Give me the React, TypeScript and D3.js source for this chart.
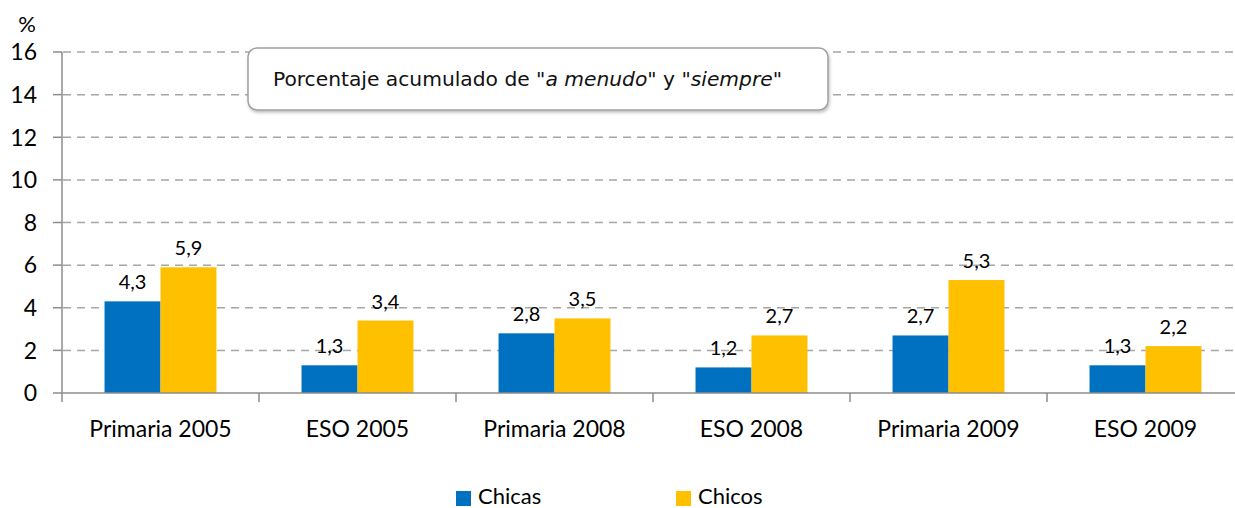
import React from "react";
import * as d3 from "d3";

const categories = ["Primaria 2005", "ESO 2005", "Primaria 2008", "ESO 2008", "Primaria 2009", "ESO 2009"];
const seriesNames = ["Chicas", "Chicos"];
const chicas = [4.3, 1.3, 2.8, 1.2, 2.7, 1.3];
const chicos = [5.9, 3.4, 3.5, 2.7, 5.3, 2.2];
const yTicks = [0, 2, 4, 6, 8, 10, 12, 14, 16];
const colors = ["#0070C0", "#FFC000"];

const W = 1235;
const H = 508;
const FONT = "Lato, 'Noto Sans', sans-serif";

export default function App() {
  const left = 62;
  const catW = 197;
  const x = d3.scaleBand<string>().domain(categories).range([left, left + catW * categories.length]).padding(0);
  const inner = d3.scaleBand<string>().domain(seriesNames).range([0, x.bandwidth()]).paddingInner(0).paddingOuter(0.76);
  const y = d3.scaleLinear().domain([0, 16]).range([393, 52]);
  const series = [chicas, chicos];
  const fmt = (v: number) => v.toFixed(1).replace(".", ",");

  return (
    <div style={{ position: "absolute", left: 0, top: 0 }}>
      <svg width={W} height={H} style={{ display: "block", background: "#fff" }}>
        <defs>
          <filter id="sh" x="-5%" y="-20%" width="110%" height="150%">
            <feDropShadow dx="1" dy="2" stdDeviation="1.5" floodColor="#000" floodOpacity="0.25" />
          </filter>
        </defs>
        {yTicks.filter((t) => t > 0).map((t) => (
          <line key={t} x1={left + 1} x2={W} y1={y(t)} y2={y(t)} stroke="#a6a6a6" strokeWidth={1.5} strokeDasharray="8 6" />
        ))}
        {series.map((vals, si) =>
          categories.map((c, ci) => (
            <rect
              key={si + "-" + ci}
              x={(x(c) as number) + (inner(seriesNames[si]) as number)}
              y={y(vals[ci])}
              width={inner.bandwidth()}
              height={y(0) - y(vals[ci])}
              fill={colors[si]}
            />
          ))
        )}
        {series.map((vals, si) =>
          categories.map((c, ci) => (
            <text
              key={"l" + si + "-" + ci}
              x={(x(c) as number) + (inner(seriesNames[si]) as number) + inner.bandwidth() / 2}
              y={y(vals[ci]) - 12}
              textAnchor="middle"
              fontFamily={FONT}
              fontSize={20}
              fill="#000"
            >
              {fmt(vals[ci])}
            </text>
          ))
        )}
        <line x1={left} x2={W} y1={y(0)} y2={y(0)} stroke="#8c8c8c" strokeWidth={1.5} />
        <line x1={left} x2={left} y1={y(16)} y2={y(0) + 9} stroke="#8c8c8c" strokeWidth={1.5} />
        {yTicks.map((t) => (
          <g key={"yt" + t}>
            <line x1={left - 9} x2={left} y1={y(t)} y2={y(t)} stroke="#8c8c8c" strokeWidth={1.5} />
            <text x={37} y={y(t)} dy="0.36em" textAnchor="end" fontFamily={FONT} fontSize={23} fill="#000">
              {t}
            </text>
          </g>
        ))}
        {categories.map((c) => (
          <g key={"xt" + c}>
            <line x1={(x(c) as number) + catW} x2={(x(c) as number) + catW} y1={y(0)} y2={y(0) + 9} stroke="#8c8c8c" strokeWidth={1.5} />
            <text x={(x(c) as number) + catW / 2} y={437} textAnchor="middle" fontFamily={FONT} fontSize={23} fill="#000">
              {c}
            </text>
          </g>
        ))}
        <text x={27} y={32} textAnchor="middle" fontFamily={FONT} fontSize={22} fill="#000">%</text>
        <rect x={248} y={48} width={580} height={62} rx={9} ry={9} fill="#fff" stroke="#a0a0a0" strokeWidth={1.5} filter="url(#sh)" />
        <text x={273} y={86} fontFamily="'DejaVu Sans Condensed', 'DejaVu Sans', sans-serif" fontSize={20} fill="#111" textLength={509} lengthAdjust="spacingAndGlyphs">
          {"Porcentaje acumulado de \""}
          <tspan fontStyle="italic">a menudo</tspan>
          {"\" y \""}
          <tspan fontStyle="italic">siempre</tspan>
          {"\""}
        </text>
        {seriesNames.map((s, i) => (
          <g key={"lg" + s}>
            <rect x={456 + i * 220} y={491} width={15} height={15} fill={colors[i]} />
            <text x={478 + i * 220} y={504} fontFamily={FONT} fontSize={22} fill="#000">{s}</text>
          </g>
        ))}
      </svg>
    </div>
  );
}
